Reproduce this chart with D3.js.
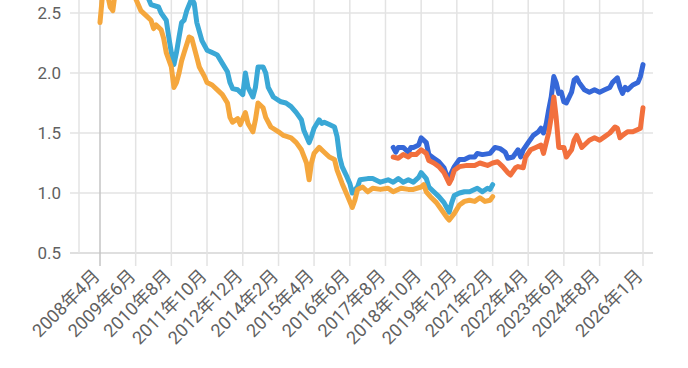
<!DOCTYPE html>
<html>
<head>
<meta charset="utf-8">
<script src="https://cdn.jsdelivr.net/npm/d3@7"></script>
<style>
  body { margin: 0; background: #fff; }
  text { font-family: Roboto, "Noto Sans CJK JP", sans-serif; }
</style>
</head>
<body>
<div id="chart"></div>
<script>
// tick labels on the x axis
var xTicks = ["2008-04", "2009-06", "2010-08", "2011-10", "2012-12", "2014-02", "2015-04",
              "2016-06", "2017-08", "2018-10", "2019-12", "2021-02", "2022-04", "2023-06",
              "2024-08", "2026-01"];
var yTicks = [0.5, 1.0, 1.5, 2.0, 2.5];

// light blue series
var seriesBlueLight = [
  ["2008-04", 2.72], ["2008-07", 2.85], ["2008-10", 2.95], ["2009-02", 2.95], ["2009-06", 2.8],
  ["2009-09", 2.68], ["2009-11", 2.62], ["2009-12", 2.57], ["2010-03", 2.55], ["2010-04", 2.5],
  ["2010-06", 2.44], ["2010-07", 2.3], ["2010-08", 2.17], ["2010-09", 2.07], ["2010-10", 2.17],
  ["2010-11", 2.3], ["2010-12", 2.42], ["2011-01", 2.44], ["2011-02", 2.52], ["2011-04", 2.62],
  ["2011-05", 2.58], ["2011-06", 2.42], ["2011-08", 2.27], ["2011-10", 2.19], ["2011-12", 2.17],
  ["2012-02", 2.15], ["2012-04", 2.08], ["2012-06", 2.01], ["2012-07", 1.92], ["2012-08", 1.87],
  ["2012-10", 1.86], ["2012-12", 1.82], ["2013-01", 2.0], ["2013-02", 1.88], ["2013-04", 1.8],
  ["2013-05", 1.88], ["2013-06", 2.05], ["2013-08", 2.05], ["2013-09", 2.0], ["2013-10", 1.88],
  ["2013-12", 1.8], ["2014-03", 1.76], ["2014-05", 1.75], ["2014-07", 1.72], ["2014-09", 1.67],
  ["2014-11", 1.61], ["2014-12", 1.52], ["2015-02", 1.42], ["2015-03", 1.47], ["2015-04", 1.54],
  ["2015-06", 1.61], ["2015-07", 1.58], ["2015-08", 1.59], ["2015-10", 1.57], ["2015-12", 1.55],
  ["2016-01", 1.47], ["2016-02", 1.3], ["2016-03", 1.22], ["2016-05", 1.13], ["2016-06", 1.08],
  ["2016-07", 1.0], ["2016-09", 1.05], ["2016-10", 1.11], ["2017-01", 1.12], ["2017-03", 1.12],
  ["2017-06", 1.09], ["2017-09", 1.11], ["2017-11", 1.09], ["2018-01", 1.12], ["2018-03", 1.09],
  ["2018-05", 1.11], ["2018-07", 1.09], ["2018-09", 1.13], ["2018-10", 1.17], ["2018-12", 1.12],
  ["2019-01", 1.05], ["2019-03", 1.01], ["2019-05", 0.97], ["2019-07", 0.92], ["2019-09", 0.84],
  ["2019-10", 0.92], ["2019-11", 0.98], ["2020-01", 1.0], ["2020-03", 1.01], ["2020-05", 1.01],
  ["2020-08", 1.04], ["2020-10", 1.01], ["2020-12", 1.04], ["2021-01", 1.03], ["2021-02", 1.07]
];

// yellow series
var seriesYellow = [
  ["2008-04", 2.42], ["2008-05", 2.65], ["2008-06", 2.72], ["2008-07", 2.65], ["2008-08", 2.55],
  ["2008-09", 2.52], ["2008-10", 2.68], ["2008-11", 2.8], ["2008-12", 2.85], ["2009-02", 2.8],
  ["2009-04", 2.75], ["2009-06", 2.62], ["2009-08", 2.52], ["2009-10", 2.48], ["2009-12", 2.44],
  ["2010-01", 2.37], ["2010-02", 2.4], ["2010-04", 2.36], ["2010-05", 2.29], ["2010-06", 2.17],
  ["2010-08", 2.05], ["2010-09", 1.88], ["2010-10", 1.92], ["2010-11", 2.0], ["2010-12", 2.1],
  ["2011-01", 2.17], ["2011-03", 2.3], ["2011-04", 2.29], ["2011-06", 2.13], ["2011-07", 2.05],
  ["2011-09", 1.97], ["2011-10", 1.92], ["2011-12", 1.9], ["2012-02", 1.86], ["2012-04", 1.82],
  ["2012-06", 1.75], ["2012-07", 1.63], ["2012-08", 1.59], ["2012-10", 1.62], ["2012-11", 1.57],
  ["2013-01", 1.67], ["2013-02", 1.58], ["2013-04", 1.51], ["2013-05", 1.61], ["2013-06", 1.75],
  ["2013-08", 1.71], ["2013-09", 1.63], ["2013-11", 1.55], ["2014-02", 1.51], ["2014-04", 1.48],
  ["2014-07", 1.46], ["2014-09", 1.42], ["2014-11", 1.36], ["2015-01", 1.25], ["2015-02", 1.11],
  ["2015-03", 1.25], ["2015-04", 1.33], ["2015-06", 1.38], ["2015-08", 1.34], ["2015-10", 1.3],
  ["2015-12", 1.28], ["2016-01", 1.19], ["2016-03", 1.08], ["2016-04", 1.03], ["2016-05", 0.98],
  ["2016-07", 0.88], ["2016-08", 0.94], ["2016-09", 1.03], ["2016-11", 1.05], ["2017-01", 1.01],
  ["2017-03", 1.04], ["2017-06", 1.03], ["2017-09", 1.04], ["2017-11", 1.01], ["2018-02", 1.04],
  ["2018-05", 1.03], ["2018-07", 1.03], ["2018-10", 1.05], ["2018-11", 1.07], ["2018-12", 1.01],
  ["2019-02", 0.96], ["2019-04", 0.92], ["2019-06", 0.86], ["2019-08", 0.8], ["2019-09", 0.775],
  ["2019-11", 0.83], ["2020-01", 0.9], ["2020-03", 0.93], ["2020-05", 0.94], ["2020-07", 0.93],
  ["2020-09", 0.96], ["2020-11", 0.93], ["2021-01", 0.94], ["2021-02", 0.97]
];

// dark blue series
var seriesBlue = [
  ["2017-11", 1.38], ["2017-12", 1.34], ["2018-01", 1.38], ["2018-03", 1.38], ["2018-05", 1.34],
  ["2018-06", 1.38], ["2018-07", 1.38], ["2018-09", 1.4], ["2018-10", 1.46], ["2018-12", 1.42],
  ["2019-01", 1.32], ["2019-03", 1.29], ["2019-05", 1.26], ["2019-07", 1.21], ["2019-08", 1.15],
  ["2019-09", 1.13], ["2019-11", 1.22], ["2020-01", 1.28], ["2020-03", 1.28], ["2020-05", 1.3],
  ["2020-07", 1.3], ["2020-08", 1.33], ["2020-10", 1.32], ["2021-01", 1.33], ["2021-03", 1.38],
  ["2021-05", 1.37], ["2021-07", 1.34], ["2021-08", 1.29], ["2021-10", 1.3], ["2021-12", 1.36],
  ["2022-01", 1.3], ["2022-02", 1.36], ["2022-04", 1.42], ["2022-06", 1.48], ["2022-08", 1.51],
  ["2022-09", 1.54], ["2022-10", 1.5], ["2022-11", 1.57], ["2022-12", 1.69], ["2023-01", 1.8],
  ["2023-02", 1.97], ["2023-03", 1.92], ["2023-04", 1.83], ["2023-05", 1.84], ["2023-06", 1.76],
  ["2023-07", 1.75], ["2023-09", 1.84], ["2023-10", 1.94], ["2023-11", 1.96], ["2023-12", 1.92],
  ["2024-02", 1.86], ["2024-04", 1.84], ["2024-06", 1.86], ["2024-08", 1.84], ["2024-10", 1.86],
  ["2024-12", 1.88], ["2025-01", 1.92], ["2025-03", 1.96], ["2025-04", 1.88], ["2025-05", 1.83],
  ["2025-06", 1.88], ["2025-07", 1.86], ["2025-09", 1.9], ["2025-11", 1.92], ["2025-12", 1.97],
  ["2026-01", 2.07]
];

// orange series
var seriesOrange = [
  ["2017-11", 1.3], ["2018-01", 1.29], ["2018-03", 1.32], ["2018-05", 1.3], ["2018-06", 1.32],
  ["2018-08", 1.32], ["2018-10", 1.36], ["2018-12", 1.33], ["2019-01", 1.27], ["2019-03", 1.25],
  ["2019-05", 1.22], ["2019-07", 1.17], ["2019-09", 1.08], ["2019-10", 1.12], ["2019-11", 1.19],
  ["2020-01", 1.22], ["2020-04", 1.23], ["2020-07", 1.23], ["2020-09", 1.25], ["2020-12", 1.23],
  ["2021-02", 1.25], ["2021-04", 1.26], ["2021-06", 1.22], ["2021-08", 1.17], ["2021-09", 1.15],
  ["2021-11", 1.21], ["2021-12", 1.22], ["2022-02", 1.21], ["2022-03", 1.3], ["2022-05", 1.36],
  ["2022-07", 1.38], ["2022-09", 1.4], ["2022-10", 1.33], ["2022-12", 1.5], ["2023-01", 1.63],
  ["2023-02", 1.8], ["2023-03", 1.63], ["2023-04", 1.38], ["2023-06", 1.38], ["2023-07", 1.3],
  ["2023-09", 1.36], ["2023-10", 1.44], ["2023-11", 1.48], ["2024-01", 1.38], ["2024-02", 1.4],
  ["2024-04", 1.44], ["2024-06", 1.46], ["2024-08", 1.44], ["2024-10", 1.47], ["2024-12", 1.5],
  ["2025-02", 1.55], ["2025-03", 1.54], ["2025-04", 1.46], ["2025-05", 1.48], ["2025-07", 1.51],
  ["2025-09", 1.51], ["2025-11", 1.53], ["2025-12", 1.54], ["2026-01", 1.71]
];

var width = 688, height = 368;
var plotLeft = 79, plotRight = 653, plotBottom = 253;

var parseMonth = d3.timeParse("%Y-%m");

var svg = d3.select("#chart")
  .append("svg")
    .attr("width", width)
    .attr("height", height);

var xScale = d3.scaleTime()
    .domain([parseMonth("2008-04"), parseMonth("2026-01")])
    .range([100, 643]);

var yScale = d3.scaleLinear()
    .domain([0.5, 2.5])
    .range([plotBottom, 13]);

// horizontal gridlines
svg.append("g")
  .selectAll("line")
  .data(yTicks)
  .enter()
  .append("line")
    .attr("x1", plotLeft - 9)
    .attr("x2", plotRight)
    .attr("y1", d => yScale(d))
    .attr("y2", d => yScale(d))
    .style("stroke", d => d == 0.5 ? "#d4d4d4" : "#e3e3e3")
    .style("stroke-width", 1.5);

// left border
svg.append("line")
    .attr("x1", plotLeft).attr("x2", plotLeft)
    .attr("y1", 0).attr("y2", plotBottom)
    .style("stroke", "#e3e3e3")
    .style("stroke-width", 1.5);

// vertical gridlines
svg.append("g")
  .selectAll("line")
  .data(xTicks)
  .enter()
  .append("line")
    .attr("x1", d => xScale(parseMonth(d)))
    .attr("x2", d => xScale(parseMonth(d)))
    .attr("y1", 0)
    .attr("y2", plotBottom + 13)
    .style("stroke", (d, i) => i == 0 ? "#c4c4c4" : "#e3e3e3")
    .style("stroke-width", 1.5);

// y labels
svg.append("g")
  .selectAll("text")
  .data(yTicks)
  .enter()
  .append("text")
    .attr("x", 61)
    .attr("y", d => yScale(d))
    .attr("dy", "0.36em")
    .attr("text-anchor", "end")
    .style("font-size", "17px")
    .style("fill", "#616161")
    .text(d => d3.format(".1f")(d));

// x labels
svg.append("g")
  .selectAll("text")
  .data(xTicks)
  .enter()
  .append("text")
    .attr("text-anchor", "end")
    .attr("transform", d => "translate(" + (xScale(parseMonth(d)) + 1) + "," + (plotBottom + 24) + ") rotate(-45)")
    .style("font-size", "18px")
    .style("fill", "#616161")
    .text(d => {
      var t = parseMonth(d);
      return t.getFullYear() + "年" + (t.getMonth() + 1) + "月";
    });

var line = d3.line()
    .x(d => xScale(parseMonth(d[0])))
    .y(d => yScale(d[1]));

var seriesList = [
  { data: seriesBlueLight, color: "#3aa8d6" },
  { data: seriesYellow, color: "#f5a73d" },
  { data: seriesBlue, color: "#3567d8" },
  { data: seriesOrange, color: "#f2703d" }
];

svg.append("g")
  .selectAll("path")
  .data(seriesList)
  .enter()
  .append("path")
    .attr("d", d => line(d.data))
    .style("fill", "none")
    .style("stroke", d => d.color)
    .style("stroke-width", 5)
    .style("stroke-linejoin", "round")
    .style("stroke-linecap", "round");
</script>
</body>
</html>
